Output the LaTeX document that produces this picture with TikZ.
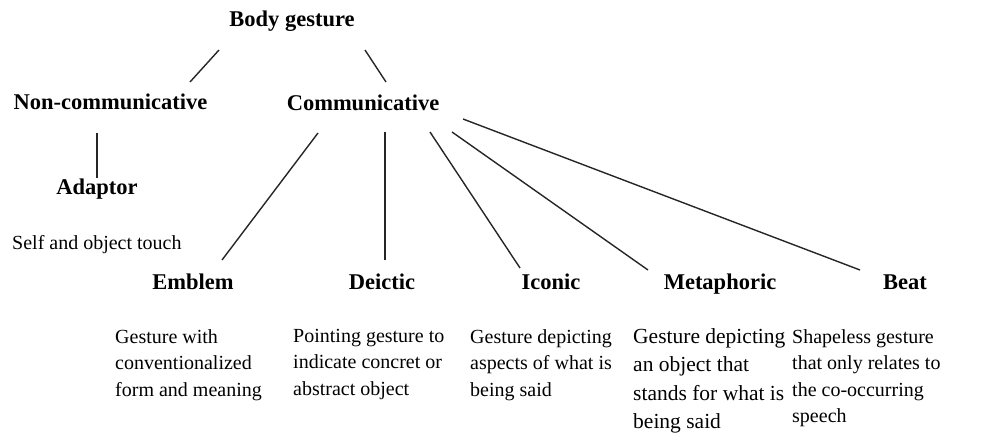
\documentclass[tikz,border=0pt]{standalone}
\usepackage{fontspec}
\setmainfont{Liberation Serif}
\newfontfamily\descfont{Liberation Serif}
\begin{document}
\begin{tikzpicture}[x=1pt,y=-1pt,
  head/.style={font=\fontsize{22.5}{27}\selectfont\bfseries, inner sep=0pt, anchor=base},
  desc/.style={font=\descfont\fontsize{20}{26.5}\selectfont, inner sep=0pt, anchor=north west, align=left},
  bigdesc/.style={desc, font=\descfont\fontsize{21.5}{28.5}\selectfont},
  link/.style={line width=1.4pt, draw=black!85}]
\useasboundingbox (0,0) rectangle (982,441);

% category labels
\node[head] (body) at (292,27) {Body gesture};
\node[head] (noncomm) at (110.5,110) {Non-communicative};
\node[head] (comm) at (363,111) {Communicative};
\node[head] (adaptor) at (97,194) {Adaptor};
\node[head] (emblem) at (193,289) {Emblem};
\node[head] (deictic) at (382,289) {Deictic};
\node[head] (iconic) at (551,289) {Iconic};
\node[head] (metaphoric) at (720,289) {Metaphoric};
\node[head] (beat) at (905,289) {Beat};

% descriptions
\node[font=\descfont\fontsize{20}{26.5}\selectfont, inner sep=0pt, anchor=base west] (touch) at (12,249) {Self and object touch};
\node[desc] (emblemtxt) at (115,329) {Gesture with\\conventionalized\\form and meaning};
\node[desc] (deictictxt) at (293,329) {Pointing gesture to\\indicate concret or\\abstract object};
\node[desc] (iconictxt) at (470,329) {Gesture depicting\\aspects of what is\\being said};
\node[bigdesc] (metaphorictxt) at (633,328) {Gesture depicting\\an object that\\stands for what is\\being said};
\node[desc] (beattxt) at (792,329) {Shapeless gesture\\that only relates to\\the co-occurring\\speech};

% tree branches
\draw[link] ([shift={(-73,23)}]body.base) -- ([shift={(79.5,-28)}]noncomm.base);
\draw[link] ([shift={(73,23)}]body.base) -- ([shift={(23,-29)}]comm.base);
\draw[link] ([shift={(-13.5,23)}]noncomm.base) -- ([shift={(0,-16)}]adaptor.base);
\draw[link] ([shift={(-45,22)}]comm.base) -- ([shift={(29,-29)}]emblem.base);
\draw[link] ([shift={(22,21)}]comm.base) -- ([shift={(3,-29)}]deictic.base);
\draw[link] ([shift={(67,21)}]comm.base) -- ([shift={(-31,-21)}]iconic.base);
\draw[link] ([shift={(89,21)}]comm.base) -- ([shift={(-72,-19)}]metaphoric.base);
\draw[link] ([shift={(100,8)}]comm.base) -- ([shift={(-45,-19)}]beat.base);
\end{tikzpicture}
\end{document}
